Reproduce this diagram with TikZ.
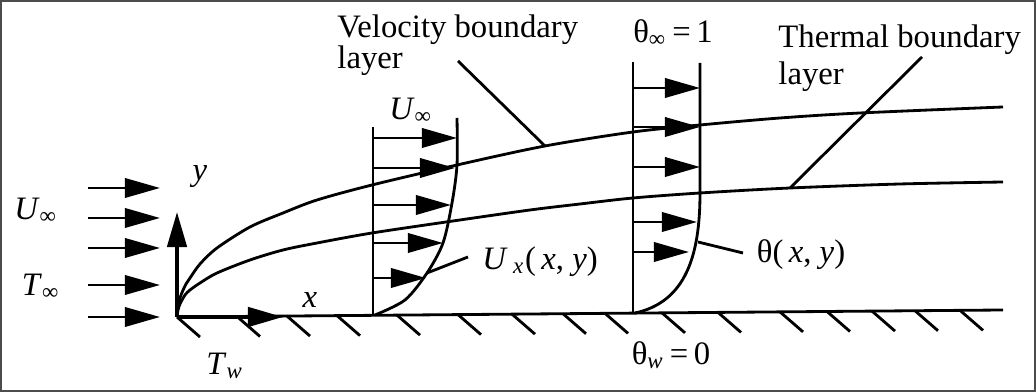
\documentclass[tikz,border=0pt]{standalone}
\usepackage{fontspec}
\setmainfont{Liberation Serif}
\usetikzlibrary{arrows.meta}
\begin{document}
\begin{tikzpicture}[x=0.01cm, y=-0.01cm, >={Triangle[length=10pt,width=5.5pt]}, line width=0.8pt, font=\fontsize{9.3}{10.5}\selectfont]
\useasboundingbox (0,0) rectangle (1036,392);
\draw[line width=0.6pt, black!70] (1,1) rectangle (1035,391);
% plate with hatching
\coordinate (O) at (177,317);
\coordinate (wend) at (1003,310);
\draw (O) -- (wend);
\foreach \hx in {177,237,287,337,397,458,512,563,605,662,718,780,827,872,915,960}
  \draw (\hx,{317-7*(\hx-177)/826}) -- ++(23,20);
% free stream
\foreach \fy in {188,218,248,285,317}
  \draw[->] (88,\fy) -- (160,\fy);
\node (uinf) at (36,211) {\textit{U}\textsubscript{∞}};
\node (tinf) at (41,287) {\textit{T}\textsubscript{∞}};
% axes
\draw[->, line width=1.1pt] (O) -- (177,212);
\draw[->, line width=1.1pt] (O) -- (283,317);
\node (ylab) at (200,177) {\textit{y}};
\node (xlab) at (310,300) {\textit{x}};
\node (tw) at (225,366) {\textit{T}\textsubscript{\textit{w}}};
% boundary layers
\draw plot[smooth] coordinates {(177,317) (178,306) (181,295) (186,284) (190,278) (200,264) (217,248) (250,227) (283,213) (317,200) (372,185) (457,165) (545,146) (633,132) (700,125) (780,118) (860,113) (1003,107)};
\draw plot[smooth] coordinates {(177,317) (178,310) (180,304) (185,295) (190,290) (200,283) (217,273) (250,260) (283,250) (317,243) (372,233) (453,221) (530,210) (580,204) (633,198) (700,193) (790,188) (900,184) (1003,182)};
% velocity profile
\draw (373,127) -- (373,315);
\draw plot[smooth] coordinates {(457,118) (457,165) (452,203) (443,243) (427,273) (405,300) (375,315)};
\foreach \vy/\vx in {138/457,168/455,205/451,243/443,278/426}
  \draw[->] (373,\vy) -- (\vx,\vy);
\node (uinf2) at (411,111) {\textit{U}\textsubscript{∞}};
% temperature profile
\draw (633,62) -- (633,313);
\draw (700,63) -- (700,193) .. controls (700,255) and (686,302) .. (635,313);
\foreach \ty/\tx in {88/700,127/700,167/700,222/697,252/689}
  \draw[->] (633,\ty) -- (\tx,\ty);
\node (thinf) at (673,33) {θ\textsubscript{∞}\,=\,1};
\node (thw) at (671,355) {θ\textsubscript{\textit{w}}\,=\,0};
% labels and leaders
\node[align=left, anchor=north west, inner sep=0pt, font=\fontsize{9.3}{8.8}\selectfont] (vbl) at (336,13) {Velocity boundary\\layer};
\node[align=left, anchor=north west, inner sep=0pt] (tbl) at (777,23) {Thermal boundary\\layer};
\coordinate (vbltail) at (458,61);
\coordinate (vblhead) at (545,146);
\draw (vbltail) -- (vblhead);
\coordinate (tbltail) at (922,57);
\coordinate (tblhead) at (790,188);
\draw (tbltail) -- (tblhead);
\node (ux) at (540,262) {\textit{U}\,\textsubscript{\textit{x}}(\,\textit{x}, \textit{y})};
\coordinate (uxfoot) at (427,273);
\coordinate (uxtail) at (468,257);
\draw (uxfoot) -- (uxtail);
\node (thxy) at (801,255) {θ(\,\textit{x}, \textit{y})};
\coordinate (thfoot) at (698,242);
\coordinate (thtail) at (743,253);
\draw (thfoot) -- (thtail);
\end{tikzpicture}
\end{document}
